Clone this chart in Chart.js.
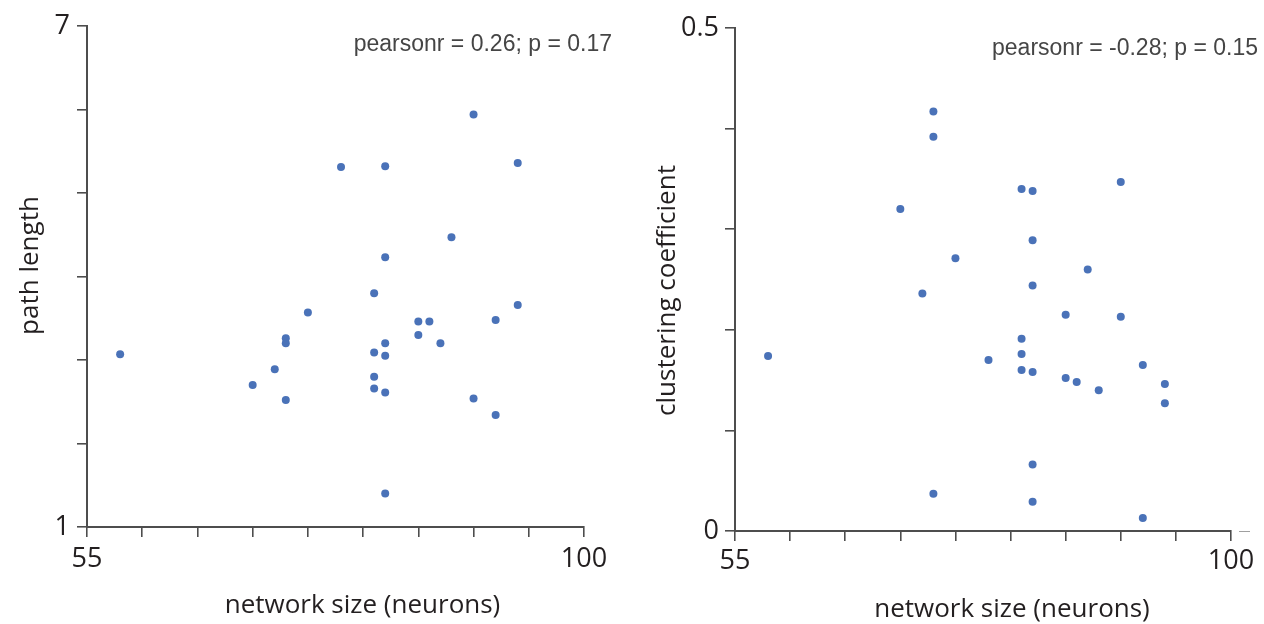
<!DOCTYPE html>
<html>
<head>
<meta charset="utf-8">
<script src="https://cdn.jsdelivr.net/npm/chart.js@4.4.1/dist/chart.umd.min.js"></script>
<style>
  body { margin: 0; background: #fff; width: 1264px; height: 624px; overflow: hidden; }
  .panel { position: absolute; top: 0; width: 632px; height: 624px; }
</style>
</head>
<body>
<div class="panel" style="left:0"><canvas id="path-chart"></canvas></div>
<div class="panel" style="left:632px"><canvas id="cluster-chart"></canvas></div>
<script>
// network size of each network (x for both panels)
const networkSize = [58, 70, 72, 73, 73, 73, 75, 78, 81, 81, 81, 81, 82, 82, 82,
                     82, 82, 82, 85, 85, 86, 87, 88, 90, 90, 92, 92, 94, 94];
// left panel
const pathLength = [3.07, 2.70, 2.89, 3.26, 3.20, 2.52, 3.57, 5.31, 3.80, 3.09, 2.80, 2.66, 5.32, 4.23, 3.20,
                    3.05, 2.61, 1.40, 3.46, 3.30, 3.46, 3.20, 4.47, 5.94, 2.54, 3.48, 2.34, 5.36, 3.66];
// right panel
const clusterCoef = [0.174, 0.320, 0.236, 0.417, 0.392, 0.037, 0.271, 0.170, 0.340, 0.191, 0.176, 0.160, 0.338, 0.289, 0.244,
                     0.158, 0.066, 0.029, 0.215, 0.152, 0.148, 0.260, 0.140, 0.347, 0.213, 0.165, 0.013, 0.146, 0.127];

// only the ends of each axis get a label
const xTickLabels = [55, 100];
const pathTickLabels = [1, 7];
const clusterTickLabels = [0, 0.5];

const xTitle = "network size (neurons)";
const pathTitle = "path length";
const clusterTitle = "clustering coefficient";
const pathNote = "pearsonr = 0.26; p = 0.17";
const clusterNote = "pearsonr = -0.28; p = 0.15";

const ink = "#231f20";
const axisGrey = "#4d4d4d";
const dotBlue = "#4a72b8";
const font = '"Open Sans", "DejaVu Sans", sans-serif';

// draws axis titles + the pearson note where the figure has them
const sideText = {
  id: "sideText",
  afterDraw(chart, args, opts) {
    const { ctx, chartArea: a } = chart;
    ctx.save();
    ctx.fillStyle = ink;
    ctx.textAlign = "center";
    ctx.textBaseline = "middle";
    ctx.font = "26px " + font;
    ctx.fillText(opts.xTitle, (a.left + a.right) / 2 + opts.xShift, a.bottom + opts.xGap);

    ctx.save();
    ctx.translate(opts.yX, (a.top + a.bottom) / 2 + opts.yShift);
    ctx.rotate(-Math.PI / 2);
    ctx.fillText(opts.yTitle, 0, 0);
    ctx.restore();

    ctx.fillStyle = "#454545";
    ctx.textAlign = "right";
    ctx.font = '23px "Liberation Sans", Arial, sans-serif';
    ctx.fillText(opts.note, a.right + opts.noteRight, a.top + opts.noteDown);

    if (opts.stub) {
      // small grey stub past the x axis end
      ctx.strokeStyle = "#a0a0a0";
      ctx.lineWidth = 1;
      ctx.beginPath();
      ctx.moveTo(a.right + 8, a.bottom + 0.5);
      ctx.lineTo(a.right + 19, a.bottom + 0.5);
      ctx.stroke();
    }
    ctx.restore();
  }
};

function isEnd(v, ends) {
  return ends.some(e => Math.abs(e - v) < 1e-9);
}

function makeChart(id, yValues, yMin, yMax, yStep, yEnds, geo, text) {
  const canvas = document.querySelector(id);
  const points = networkSize.map((x, i) => ({ x: x, y: yValues[i] }));
  return new Chart(canvas.getContext("2d"), {
    type: "scatter",
    data: {
      datasets: [{
        data: points,
        backgroundColor: dotBlue,
        borderWidth: 0,
        pointRadius: 4,
        pointHoverRadius: 4
      }]
    },
    options: {
      responsive: true,
      maintainAspectRatio: false,
      animation: false,
      layout: { padding: { top: geo.top, right: geo.right, bottom: 0, left: 0 } },
      scales: {
        x: {
          type: "linear",
          min: 55,
          max: 100,
          ticks: {
            stepSize: 5,
            autoSkip: false,
            maxRotation: 0,
            padding: geo.xPad,
            color: ink,
            font: { family: font, size: 27 },
            callback: v => isEnd(v, xTickLabels) ? String(v) : ""
          },
          grid: { drawOnChartArea: false, tickLength: 10, color: axisGrey, lineWidth: 1.6 },
          border: { color: axisGrey, width: 2 },
          afterFit: s => { s.height = geo.xHeight; }
        },
        y: {
          type: "linear",
          min: yMin,
          max: yMax,
          ticks: {
            stepSize: yStep,
            autoSkip: false,
            padding: geo.yPad,
            color: ink,
            font: { family: font, size: 27 },
            callback: v => isEnd(v, yEnds) ? String(+v.toFixed(2)) : ""
          },
          grid: { drawOnChartArea: false, tickLength: 10, color: axisGrey, lineWidth: 1.6 },
          border: { color: axisGrey, width: 2 },
          afterFit: s => { s.width = geo.yWidth; }
        }
      },
      plugins: {
        legend: { display: false },
        tooltip: { enabled: false },
        sideText: text
      }
    },
    plugins: [sideText]
  });
}

makeChart("#path-chart", pathLength, 1, 7, 1, pathTickLabels,
  { top: 26, right: 48, xHeight: 97, yWidth: 87, xPad: 6, yPad: 7 },
  { xTitle: xTitle, xShift: 27, xGap: 79, yTitle: pathTitle, yX: 31, yShift: -11,
    note: pathNote, noteRight: 28, noteDown: 19, stub: false });

makeChart("#cluster-chart", clusterCoef, 0, 0.5, 0.1, clusterTickLabels,
  { top: 28, right: 33, xHeight: 93, yWidth: 103, xPad: 4, yPad: 6 },
  { xTitle: xTitle, xShift: 29, xGap: 79, yTitle: clusterTitle, yX: 36, yShift: 11,
    note: clusterNote, noteRight: 27, noteDown: 21, stub: true });
</script>
</body>
</html>
